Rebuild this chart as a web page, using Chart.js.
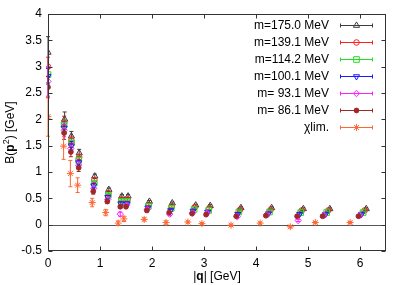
<!DOCTYPE html>
<html>
<head>
<meta charset="utf-8">
<script src="https://cdn.jsdelivr.net/npm/chart.js@4/dist/chart.umd.min.js"></script>
<style>
  html, body { margin: 0; padding: 0; background: #fff; }
  #wrap { width: 407px; height: 285px; }
</style>
</head>
<body>
<div id="wrap"><canvas id="chart" width="407" height="285"></canvas></div>
<script>
// ── Data ───────────────────────────────────────────────────────────────────────

const xTicks = [0, 1, 2, 3, 4, 5, 6];
const yTicks = [-0.5, 0, 0.5, 1, 1.5, 2, 2.5, 3, 3.5, 4];

// |q| [GeV] for each mass (slightly different lattice spacing per mass)
const q175 = [0, 0.32, 0.45, 0.60, 0.90, 1.17, 1.42, 1.54, 1.95, 2.39, 2.84, 3.12, 3.71, 4.30, 4.91, 5.42, 6.12];
const q139 = [0, 0.31, 0.45, 0.60, 0.89, 1.16, 1.41, 1.53, 1.94, 2.38, 2.82, 3.10, 3.69, 4.28, 4.88, 5.39, 6.09];
const q114 = [0, 0.31, 0.45, 0.59, 0.89, 1.16, 1.41, 1.52, 1.93, 2.37, 2.81, 3.09, 3.67, 4.26, 4.86, 5.36, 6.06];
const q100 = [0, 0.31, 0.45, 0.59, 0.88, 1.15, 1.40, 1.52, 1.92, 2.36, 2.79, 3.07, 3.65, 4.24, 4.84, 5.34, 6.03];
const q93  = [0, 0.31, 0.44, 0.59, 0.88, 1.15, 1.39, 1.51, 1.91, 2.34, 2.78, 3.06, 3.64, 4.21, 4.81, 5.31, 6.00];
const q86  = [0, 0.31, 0.44, 0.59, 0.87, 1.14, 1.39, 1.50, 1.90, 2.33, 2.77, 3.04, 3.62, 4.19, 4.79, 5.28, 5.97];
const qChi = [0, 0.30, 0.43, 0.57, 0.85, 1.11, 1.35, 1.46, 1.85, 2.27, 2.69, 2.96, 3.52, 4.08, 4.66, 5.14, 5.81];

// B(p^2) [GeV]
const b175 = [3.27, 2.00, 1.68, 1.36, 0.92, 0.665, 0.54, 0.54, 0.44, 0.41, 0.37, 0.36, 0.32, 0.32, 0.30, 0.30, 0.30];
const b139 = [3.00, 1.94, 1.60, 1.28, 0.85, 0.60, 0.48, 0.48, 0.38, 0.35, 0.33, 0.31, 0.28, 0.28, 0.27, 0.27, 0.27];
const b114 = [2.85, 1.89, 1.55, 1.22, 0.79, 0.56, 0.44, 0.44, 0.35, 0.31, 0.29, 0.27, 0.24, 0.24, 0.23, 0.23, 0.23];
const b100 = [2.82, 1.84, 1.50, 1.18, 0.74, 0.52, 0.40, 0.40, 0.32, 0.27, 0.26, 0.24, 0.20, 0.21, 0.20, 0.20, 0.20];
const b93  = [2.72, 1.79, 1.45, 1.13, 0.69, 0.48, 0.20, 0.37, 0.29, 0.20, 0.22, 0.22, 0.15, 0.19, 0.08, 0.18, 0.18];
const b86  = [2.61, 1.74, 1.38, 1.08, 0.63, 0.44, 0.34, 0.34, 0.27, 0.23, 0.21, 0.19, 0.16, 0.17, 0.16, 0.16, 0.16];
const bChi = [2.05, 1.49, 0.97, 0.75, 0.42, 0.23, 0.03, 0.11, 0.10, 0.04, 0.05, 0.02, -0.01, 0.03, -0.04, 0.04, 0.04];

// errors
const e175 = [0.30, 0.14, 0.09, 0.07, 0.04, 0.03, 0.03, 0.03, 0.02, 0.02, 0.02, 0.02, 0.02, 0.02, 0.02, 0.02, 0.02];
const e139 = [0.18, 0.12, 0.08, 0.06, 0.04, 0.03, 0.03, 0.03, 0.02, 0.02, 0.02, 0.02, 0.02, 0.02, 0.02, 0.02, 0.02];
const e114 = [0.15, 0.11, 0.08, 0.06, 0.04, 0.03, 0.03, 0.03, 0.02, 0.02, 0.02, 0.02, 0.02, 0.02, 0.02, 0.02, 0.02];
const e100 = [0.15, 0.11, 0.08, 0.06, 0.04, 0.03, 0.03, 0.03, 0.02, 0.02, 0.02, 0.02, 0.02, 0.02, 0.02, 0.02, 0.02];
const e93  = [0.28, 0.12, 0.09, 0.07, 0.05, 0.04, 0.04, 0.03, 0.03, 0.03, 0.02, 0.02, 0.02, 0.02, 0.02, 0.02, 0.02];
const e86  = [0.20, 0.12, 0.09, 0.07, 0.05, 0.04, 0.03, 0.03, 0.03, 0.02, 0.02, 0.02, 0.02, 0.02, 0.02, 0.02, 0.02];
const eChi = [0.37, 0.25, 0.25, 0.14, 0.08, 0.06, 0.04, 0.05, 0.03, 0.03, 0.02, 0.02, 0.02, 0.02, 0.02, 0.02, 0.02];

const labels = ['m=175.0 MeV', 'm=139.1 MeV', 'm=114.2 MeV', 'm=100.1 MeV', 'm= 93.1 MeV', 'm= 86.1 MeV', 'χlim.'];

// ── Series styling ─────────────────────────────────────────────────────────────

const series = [
  { q: q175, b: b175, e: e175, color: '#3c3c3c', style: 'triangle', rot: 0,   r: 3.6, fill: false },
  { q: q139, b: b139, e: e139, color: '#ff2020', style: 'circle',   rot: 0,   r: 2.8, fill: false },
  { q: q114, b: b114, e: e114, color: '#22e022', style: 'rect',     rot: 0,   r: 4.0, fill: false },
  { q: q100, b: b100, e: e100, color: '#1a1aff', style: 'triangle', rot: 180, r: 3.5, fill: false },
  { q: q93,  b: b93,  e: e93,  color: '#ff20ff', style: 'rectRot',  rot: 0,   r: 3.2, fill: false },
  { q: q86,  b: b86,  e: e86,  color: '#a02828', style: 'circle',   rot: 0,   r: 2.4, fill: true  },
  { q: qChi, b: bChi, e: eChi, color: '#ff6633', style: 'star',     rot: 0,   r: 3.5, fill: false }
];

const FONT = '"Liberation Sans", Arial, sans-serif';

const datasets = series.map((s, i) => ({
  label: labels[i],
  data: s.q.map((x, k) => ({ x, y: s.b[k] })),
  errs: s.e,
  showLine: false,
  borderColor: s.color,
  backgroundColor: s.fill ? s.color : 'rgba(0,0,0,0)',
  pointStyle: s.style,
  rotation: s.rot,
  pointRadius: s.r,
  pointBorderWidth: 1,
  order: series.length - i
}));

// ── Plugin: frame, ticks, error bars, legend, titles ──────────────────────────

const gnuplotLook = {
  id: 'gnuplotLook',
  beforeDatasetsDraw(chart) {
    const { ctx, chartArea: a, scales: { x, y } } = chart;
    ctx.save();
    ctx.lineWidth = 1;
    // zero axis
    const y0 = Math.round(y.getPixelForValue(0)) + 0.5;
    ctx.strokeStyle = '#555';
    ctx.beginPath();
    ctx.moveTo(a.left, y0);
    ctx.lineTo(a.right, y0);
    ctx.stroke();
    // error bars
    chart.data.datasets.forEach(ds => {
      ctx.strokeStyle = ds.borderColor;
      ds.data.forEach((p, i) => {
        const e = ds.errs[i];
        const px = x.getPixelForValue(p.x);
        const top = y.getPixelForValue(p.y + e);
        const bot = y.getPixelForValue(p.y - e);
        ctx.beginPath();
        ctx.moveTo(px, top); ctx.lineTo(px, bot);
        ctx.moveTo(px - 2, top); ctx.lineTo(px + 2, top);
        ctx.moveTo(px - 2, bot); ctx.lineTo(px + 2, bot);
        ctx.stroke();
      });
    });
    ctx.restore();
  },
  afterDraw(chart) {
    const { ctx, chartArea: a, scales: { x, y } } = chart;
    ctx.save();
    ctx.lineWidth = 1;
    ctx.strokeStyle = '#333';
    const L = Math.round(a.left) + 0.5, R = Math.round(a.right) - 0.5;
    const T = Math.round(a.top) + 0.5, B = Math.round(a.bottom) - 0.5;
    ctx.strokeRect(L, T, R - L, B - T);

    // inward tick marks, mirrored
    ctx.beginPath();
    yTicks.forEach(v => {
      const py = Math.round(y.getPixelForValue(v)) + 0.5;
      ctx.moveTo(L, py); ctx.lineTo(L + 4, py);
      ctx.moveTo(R, py); ctx.lineTo(R - 4, py);
    });
    xTicks.forEach(v => {
      const px = Math.round(x.getPixelForValue(v)) + 0.5;
      ctx.moveTo(px, B); ctx.lineTo(px, B - 4);
      ctx.moveTo(px, T); ctx.lineTo(px, T + 4);
    });
    ctx.stroke();

    // legend (text right-aligned, sample on the right)
    ctx.font = '12px ' + FONT;
    ctx.textBaseline = 'middle';
    series.forEach((s, i) => {
      const ly = Math.round(25 + i * 17) + 0.5;
      ctx.fillStyle = '#000';
      ctx.textAlign = 'right';
      ctx.fillText(labels[i], 329, ly);
      ctx.strokeStyle = s.color;
      ctx.beginPath();
      ctx.moveTo(340, ly); ctx.lineTo(373, ly);
      ctx.moveTo(340.5, ly - 2); ctx.lineTo(340.5, ly + 2);
      ctx.moveTo(372.5, ly - 2); ctx.lineTo(372.5, ly + 2);
      ctx.stroke();
      ctx.fillStyle = s.fill ? s.color : 'rgba(0,0,0,0)';
      Chart.helpers.drawPoint(ctx, {
        pointStyle: s.style, rotation: s.rot, radius: s.r, borderWidth: 1
      }, 356.5, ly);
    });

    // axis titles with bold vectors
    const parts = (list) => list.reduce((w, p) => {
      ctx.font = p.f; return w + ctx.measureText(p.t).width;
    }, 0);
    const reg = '12px ' + FONT, bold = 'bold 12px ' + FONT, sup = '9px ' + FONT;

    const xt = [{ t: '|', f: reg }, { t: 'q', f: bold }, { t: '| [GeV]', f: reg }];
    let cx = (a.left + a.right) / 2 - parts(xt) / 2;
    ctx.fillStyle = '#000';
    ctx.textAlign = 'left';
    ctx.textBaseline = 'middle';
    xt.forEach(p => { ctx.font = p.f; ctx.fillText(p.t, cx, 277); cx += ctx.measureText(p.t).width; });

    const yt = [{ t: 'B(', f: reg }, { t: 'p', f: bold }, { t: '2', f: sup, up: 4 }, { t: ') [GeV]', f: reg }];
    ctx.translate(11, (a.top + a.bottom) / 2);
    ctx.rotate(-Math.PI / 2);
    let cy = -parts(yt) / 2;
    yt.forEach(p => { ctx.font = p.f; ctx.fillText(p.t, cy, -(p.up || 0)); cy += ctx.measureText(p.t).width; });
    ctx.restore();
  }
};

// ── Chart ──────────────────────────────────────────────────────────────────────

new Chart(document.getElementById('chart').getContext('2d'), {
  type: 'scatter',
  data: { datasets },
  options: {
    responsive: false,
    animation: false,
    devicePixelRatio: 1,
    events: [],
    layout: { padding: { top: 14, right: 21, left: 0, bottom: 0 } },
    plugins: { legend: { display: false }, tooltip: { enabled: false } },
    scales: {
      x: {
        type: 'linear', min: 0, max: 6.5,
        grid: { display: false, drawTicks: false, tickLength: 0 }, border: { display: false },
        afterFit: s => { s.height = 34; },
        afterBuildTicks: s => { s.ticks = xTicks.map(v => ({ value: v })); },
        ticks: { padding: 5, color: '#000', font: { family: FONT, size: 12 }, maxRotation: 0,
                 callback: v => String(v) }
      },
      y: {
        type: 'linear', min: -0.5, max: 4,
        grid: { display: false, drawTicks: false, tickLength: 0 }, border: { display: false },
        afterFit: s => { s.width = 48; },
        afterBuildTicks: s => { s.ticks = yTicks.map(v => ({ value: v })); },
        ticks: { padding: 6, color: '#000', font: { family: FONT, size: 12 },
                 callback: v => String(v) }
      }
    }
  },
  plugins: [gnuplotLook]
});
</script>
</body>
</html>
